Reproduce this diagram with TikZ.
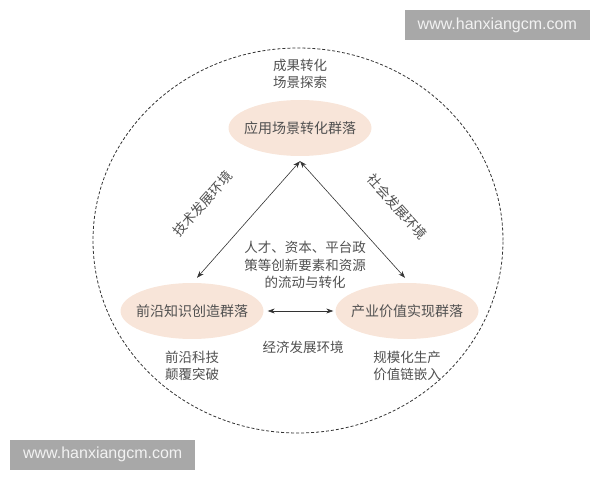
\documentclass[tikz,border=0pt]{standalone}
\usepackage{fontspec}
\setmainfont{Noto Sans CJK SC}
\newfontfamily\wmfont{Liberation Sans}
\usetikzlibrary{positioning,arrows.meta,shapes.geometric}
\definecolor{peach}{HTML}{F8E5D9}
\definecolor{txtgray}{HTML}{505050}
\definecolor{linegray}{HTML}{333333}
\definecolor{wmgray}{HTML}{A8A8A8}
\begin{document}
\begin{tikzpicture}[x=1pt,y=1pt,>={Stealth[length=7pt,width=5pt]},on grid,
    cluster/.style={ellipse,fill=peach,minimum width=143pt,minimum height=56pt,
      inner xsep=-6.5pt,inner ysep=0pt,text=txtgray,font=\fontsize{14}{17}\selectfont},
    note/.style={text=txtgray,align=center,font=\fontsize{13.5}{17.5}\selectfont},
    link/.style={<->,draw=linegray,line width=0.6pt},
    wm/.style={fill=wmgray,text=white!95!black,minimum width=185pt,minimum height=30pt,
      inner sep=0pt,font=\wmfont\fontsize{16}{18}\selectfont}]
  \useasboundingbox (0,0) rectangle (600,480);
  % outer boundary
  \draw[linegray,line width=0.8pt,dash pattern=on 3pt off 2pt] (298,239.5) ellipse [x radius=205,y radius=192.5];

  % the three clusters
  \node[cluster] (top) at (300,352) {应用场景转化群落};
  \node[cluster] (left) [below left=183pt and 108pt of top] {前沿知识创造群落};
  \node[cluster] (right) [right=215pt of left] {产业价值实现群落};

  \node[note] (topnote) [above=54pt of top] {成果转化\\场景探索};
  \node[note] (leftnote) [below=55pt of left] {前沿科技\\颠覆突破};
  \node[note] (rightnote) [below=55pt of right] {规模化生产\\价值链嵌入};
  \node[note] (flow) at (305,215) {人才、资本、平台政\\策等创新要素和资源\\的流动与转化};

  \coordinate (apex) at ([yshift=-5pt]top.south);
  \coordinate (lt) at ([xshift=5pt,yshift=5pt]left.north);
  \coordinate (rt) at ([xshift=-2pt,yshift=5pt]right.north);

  \draw[link] (lt) -- node[note,sloped,above=35pt,pos=0.38] {技术发展环境} (apex);
  \draw[link] (apex) -- node[note,sloped,above=32pt,pos=0.63] {社会发展环境} (rt);
  \draw[link,shorten <=4pt,shorten >=2pt] (left) -- (right);
  \node[note] (econ) at (303,133) {经济发展环境};

  % watermarks
  \node[wm,anchor=north east] (wmtop) at (590,470) {www.hanxiangcm.com};
  \node[wm,anchor=south west] (wmbot) at (10,10) {www.hanxiangcm.com};
\end{tikzpicture}
\end{document}
